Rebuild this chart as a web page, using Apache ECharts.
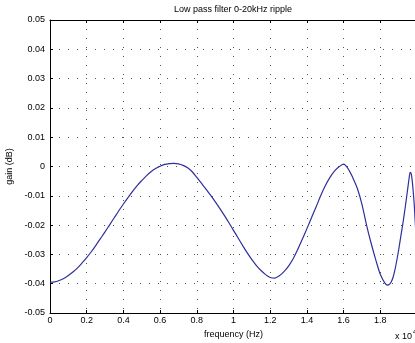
<!DOCTYPE html>
<html>
<head>
<meta charset="utf-8">
<script src="https://cdn.jsdelivr.net/npm/echarts@6/dist/echarts.min.js"></script>
<style>
html,body{margin:0;padding:0;overflow:hidden;background:#fff;}
#c{width:425px;height:343px;}
</style>
</head>
<body>
<div id="c"></div>
<script>
// frequency in units of 10^4 Hz
var freq = [0, 0.025, 0.05, 0.075, 0.1, 0.125, 0.15, 0.175, 0.2, 0.225, 0.25, 0.275, 0.3, 0.325, 0.35, 0.375, 0.4, 0.425, 0.45, 0.475, 0.5, 0.525, 0.55, 0.575, 0.6, 0.625, 0.65, 0.675, 0.7, 0.725, 0.75, 0.775, 0.8, 0.825, 0.85, 0.875, 0.9, 0.925, 0.95, 0.975, 1.0, 1.025, 1.05, 1.075, 1.1, 1.125, 1.15, 1.175, 1.2, 1.225, 1.25, 1.275, 1.3, 1.325, 1.35, 1.375, 1.4, 1.425, 1.45, 1.475, 1.5, 1.525, 1.55, 1.575, 1.6, 1.625, 1.65, 1.675, 1.7, 1.725, 1.75, 1.775, 1.8, 1.825, 1.84, 1.85, 1.86, 1.87, 1.88, 1.89, 1.9, 1.91, 1.92, 1.93, 1.94, 1.95, 1.957, 1.963, 1.969, 1.975, 1.98, 1.985, 1.99, 1.995, 2.0];
var gain = [-0.0395, -0.0394, -0.0389, -0.0382, -0.0372, -0.0360, -0.0346, -0.0329, -0.0311, -0.0291, -0.0269, -0.0246, -0.0223, -0.0199, -0.0175, -0.0151, -0.0128, -0.0106, -0.0085, -0.0065, -0.0048, -0.0032, -0.0018, -0.0007, 0.0001, 0.0007, 0.0010, 0.0011, 0.0009, 0.0004, -0.0004, -0.0018, -0.0037, -0.0057, -0.0077, -0.0098, -0.0120, -0.0143, -0.0167, -0.0192, -0.0218, -0.0244, -0.0270, -0.0295, -0.0318, -0.0338, -0.0355, -0.0369, -0.0379, -0.0381, -0.0373, -0.0359, -0.0340, -0.0315, -0.0283, -0.0248, -0.0212, -0.0175, -0.0138, -0.0100, -0.0066, -0.0038, -0.0016, -0.0001, 0.0008, -0.0008, -0.0038, -0.0075, -0.0129, -0.0200, -0.0262, -0.0318, -0.0368, -0.0398, -0.0405, -0.0402, -0.0393, -0.0377, -0.0352, -0.0320, -0.0285, -0.0245, -0.0207, -0.0165, -0.0120, -0.0073, -0.0040, -0.0020, -0.0026, -0.0055, -0.0090, -0.0130, -0.0185, -0.0245, -0.0310];
var xTicks = ['0', '0.2', '0.4', '0.6', '0.8', '1', '1.2', '1.4', '1.6', '1.8', '2'];
var yTicks = ['-0.05', '-0.04', '-0.03', '-0.02', '-0.01', '0', '0.01', '0.02', '0.03', '0.04', '0.05'];
var titleText = 'Low pass filter 0-20kHz ripple';
var xName = 'frequency (Hz)';
var yName = 'gain (dB)';

var FONT = 'Liberation Sans, Arial, sans-serif';
var chart = echarts.init(document.getElementById('c'), null, {renderer: 'canvas'});
var pts = freq.map(function (f, i) { return [f, gain[i]]; });
var gridLine = {show: true, lineStyle: {color: '#555', width: 1, type: [1, 8]}};
var tick = {show: true, inside: true, length: 3, lineStyle: {color: '#000'}};
chart.setOption({
  animation: false,
  grid: {left: 50, top: 20, right: 8, bottom: 30, containLabel: false, outerBoundsMode: 'none'},
  graphic: [
    {type: 'text', x: 233, y: 10, style: {text: titleText, font: '9px ' + FONT, fill: '#000', textAlign: 'center', textVerticalAlign: 'middle'}},
    {type: 'text', x: 395, y: 337, style: {text: 'x 10', font: '9px ' + FONT, fill: '#000', textAlign: 'left', textVerticalAlign: 'middle'}},
    {type: 'text', x: 413, y: 332, style: {text: '4', font: '7px ' + FONT, fill: '#000', textAlign: 'left', textVerticalAlign: 'middle'}}
  ],
  xAxis: [{
    type: 'value', min: 0, max: 2, interval: 0.2, position: 'bottom',
    name: xName, nameLocation: 'middle', nameGap: 14,
    nameTextStyle: {fontSize: 9, color: '#000', fontFamily: FONT},
    axisLine: {show: true, onZero: false, lineStyle: {color: '#000', width: 1}},
    axisTick: tick,
    axisLabel: {fontSize: 9, color: '#000', fontFamily: FONT, margin: 3,
      formatter: function (v) { return xTicks[Math.round(v / 0.2)]; }},
    splitLine: gridLine
  }, {
    type: 'value', min: 0, max: 2, interval: 0.2, position: 'top',
    axisLine: {show: true, onZero: false, lineStyle: {color: '#000', width: 1}},
    axisTick: tick, axisLabel: {show: false}, splitLine: {show: false}
  }],
  yAxis: [{
    type: 'value', min: -0.05, max: 0.05, interval: 0.01, position: 'left',
    name: yName, nameLocation: 'middle', nameGap: 33,
    nameTextStyle: {fontSize: 9, color: '#000', fontFamily: FONT},
    axisLine: {show: true, onZero: false, lineStyle: {color: '#000', width: 1}},
    axisTick: tick,
    axisLabel: {fontSize: 9, color: '#000', fontFamily: FONT, margin: 5,
      formatter: function (v) { return yTicks[Math.round((v + 0.05) / 0.01)]; }},
    splitLine: gridLine
  }],
  series: [{
    type: 'line', data: pts, showSymbol: false, smooth: 0.3,
    lineStyle: {color: '#2f2f9c', width: 1.2}, clip: true
  }]
});
</script>
</body>
</html>
